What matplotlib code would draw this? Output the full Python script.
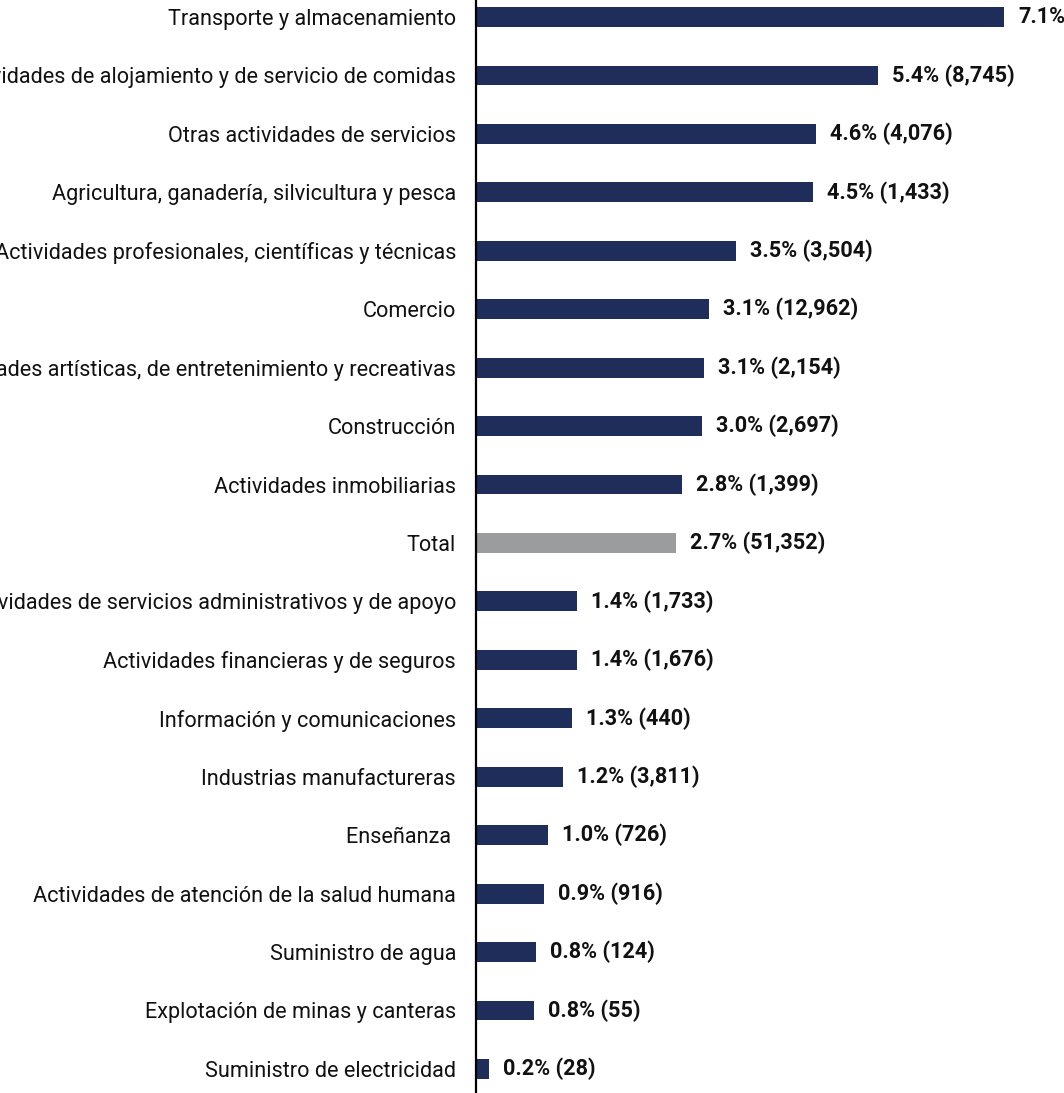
import matplotlib
matplotlib.use('Agg')
import matplotlib.pyplot as plt

plt.rcParams['font.family'] = ['Roboto', 'DejaVu Sans']

categorias = ['Transporte y almacenamiento',
              'Actividades de alojamiento y de servicio de comidas',
              'Otras actividades de servicios',
              'Agricultura, ganadería, silvicultura y pesca',
              'Actividades profesionales, científicas y técnicas',
              'Comercio',
              'Actividades artísticas, de entretenimiento y recreativas',
              'Construcción',
              'Actividades inmobiliarias',
              'Total',
              'Actividades de servicios administrativos y de apoyo',
              'Actividades financieras y de seguros',
              'Información y comunicaciones',
              'Industrias manufactureras',
              'Enseñanza ',
              'Actividades de atención de la salud humana',
              'Suministro de agua',
              'Explotación de minas y canteras',
              'Suministro de electricidad']

# porcentaje (estimado del largo de barra) y casos
porcentaje = [7.10, 5.40, 4.57, 4.53, 3.49, 3.13, 3.06, 3.04, 2.77, 2.69,
              1.36, 1.36, 1.29, 1.17, 0.97, 0.91, 0.81, 0.78, 0.17]
casos = [None, '8,745', '4,076', '1,433', '3,504', '12,962', '2,154', '2,697',
         '1,399', '51,352', '1,733', '1,676', '440', '3,811', '726', '916',
         '124', '55', '28']

azul = '#1f2d5b'
gris = '#9a9c9e'
colores = [gris if c == 'Total' else azul for c in categorias]

fig = plt.figure(figsize=(10.64, 10.93), dpi=100)
ax = fig.add_axes([476 / 1064, 0, 588 / 1064, 1])

y = list(range(len(categorias)))
ax.barh(y, porcentaje, height=0.34, color=colores)

for yi, p, c in zip(y, porcentaje, casos):
    txt = f'{p:.1f}%' if c is None else f'{p:.1f}% ({c})'
    ax.text(p + 0.19, yi, txt, va='center', ha='left', fontsize=15.6,
            fontweight='bold', color='#111111')

ax.set_yticks(y)
ax.set_yticklabels(categorias, fontsize=15.6, color='#111111')
ax.tick_params(axis='y', length=0, pad=14.4)
ax.set_xticks([])
ax.set_xlim(0, 588 / 74.4)
ax.set_ylim((1093 - 17) / 58.44, -17 / 58.44)

for s in ['top', 'right', 'bottom']:
    ax.spines[s].set_visible(False)
ax.spines['left'].set_linewidth(1.6)
ax.spines['left'].set_color('black')

fig.savefig('out.png', dpi=100)
